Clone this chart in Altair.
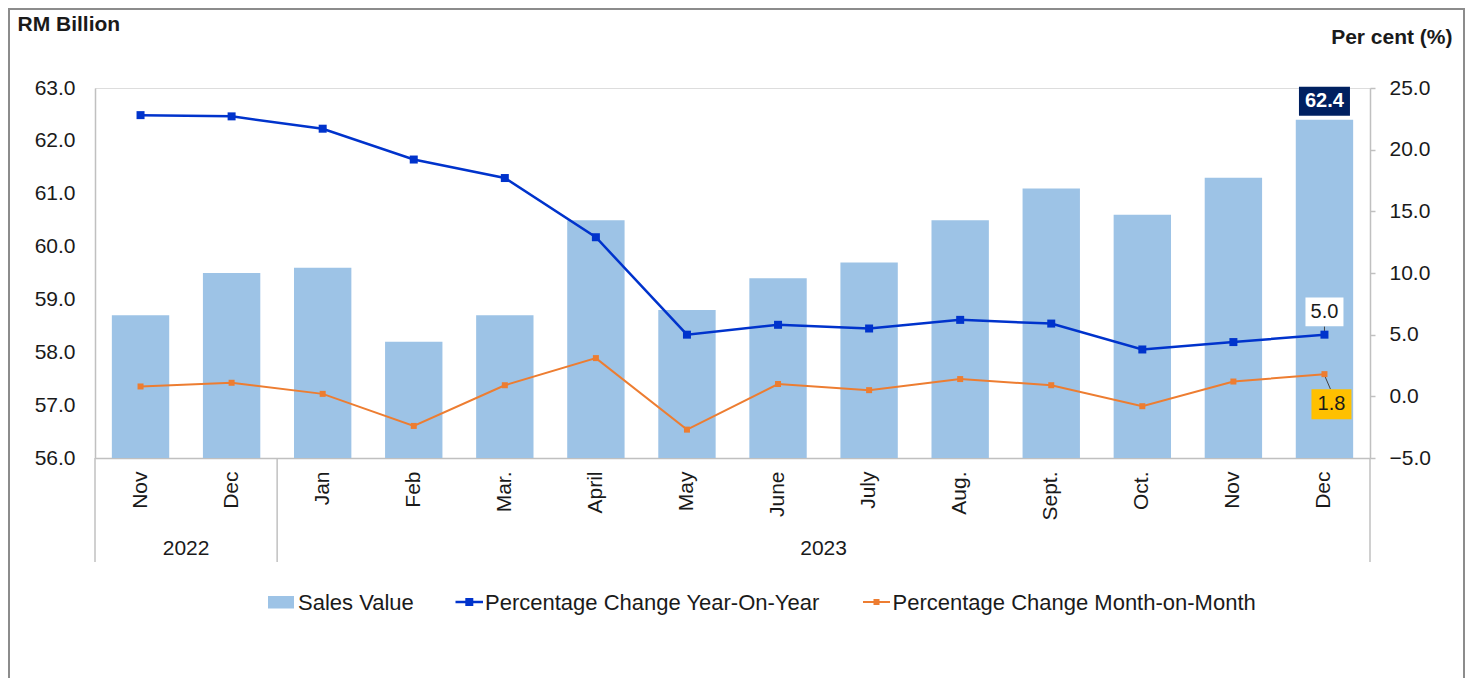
import altair as alt
import pandas as pd

# ---------------- data ----------------
years = ["2022", "2022"] + ["2023"] * 12
months = ["Nov", "Dec", "Jan", "Feb", "Mar.", "April", "May", "June",
          "July", "Aug.", "Sept.", "Oct.", "Nov", "Dec"]
sales = [58.7, 59.5, 59.6, 58.2, 58.7, 60.5, 58.8, 59.4, 59.7, 60.5, 61.1, 60.6, 61.3, 62.4]
yoy = [22.8, 22.7, 21.7, 19.2, 17.7, 12.9, 5.0, 5.8, 5.5, 6.2, 5.9, 3.8, 4.4, 5.0]
mom = [0.8, 1.1, 0.2, -2.4, 0.9, 3.1, -2.7, 1.0, 0.5, 1.4, 0.9, -0.8, 1.2, 1.8]
year_labels = ["2022", "2023"]
legend_labels = ["Sales Value", "Percentage Change Year-On-Year",
                 "Percentage Change Month-on-Month"]
left_ticks = [56, 57, 58, 59, 60, 61, 62, 63]
right_ticks = [-5, 0, 5, 10, 15, 20, 25]

keys = [f"{y}|{m}" for y, m in zip(years, months)]
df = pd.DataFrame({"key": keys, "sales": sales, "yoy": yoy, "mom": mom})
last = df.iloc[[-1]].reset_index(drop=True)
one = pd.DataFrame({"v": [0]})

# ---------------- style ----------------
W, H = 1275, 370
N = len(keys)
step = W / N
FONT = "Liberation Sans"
TXT = "#1a1a1a"
GREY = "#c0c0c0"
BAR = "#9dc3e6"
BLUE = "#0033cc"
ORANGE = "#ed7d31"


def X():
    return alt.X(
        "key:N", sort=keys, title=None,
        scale=alt.Scale(paddingInner=0.37, paddingOuter=0.185),
        axis=alt.Axis(labelExpr="split(datum.label, '|')[1]", labelAngle=-90,
                      labelFontSize=21, labelColor=TXT, labelFont=FONT,
                      labelPadding=13, ticks=False, domainColor=GREY,
                      domainWidth=1.5, grid=False, labelOverlap=False),
    )


def yL(field):
    return alt.Y(
        f"{field}:Q", title="RM Billion",
        scale=alt.Scale(domain=[56, 63], nice=False, zero=False),
        axis=alt.Axis(orient="left", values=left_ticks, format=".1f", ticks=False,
                      grid=False, domainColor=GREY, domainWidth=1.5,
                      labelFontSize=21, labelColor=TXT, labelFont=FONT, labelPadding=20,
                      title="RM Billion", titleAngle=0, titleX=-78, titleY=-58,
                      titleAlign="left", titleBaseline="alphabetic", titleFontSize=21,
                      titleFontWeight="bold", titleColor=TXT, titleFont=FONT),
    )


def yR(field):
    return alt.Y(
        f"{field}:Q", title="Per cent (%)",
        scale=alt.Scale(domain=[-5, 25], nice=False, zero=False),
        axis=alt.Axis(orient="right", values=right_ticks, format=".1f", ticks=True,
                      tickSize=5, tickColor=GREY, tickWidth=1.5,
                      grid=False, domainColor=GREY, domainWidth=1.5,
                      labelFontSize=21, labelColor=TXT, labelFont=FONT, labelPadding=14,
                      title="Per cent (%)", titleAngle=0, titleX=82, titleY=-45,
                      titleAlign="right", titleBaseline="alphabetic", titleFontSize=21,
                      titleFontWeight="bold", titleColor=TXT, titleFont=FONT),
    )


# ---------------- left (bars) ----------------
bars = alt.Chart(df).mark_bar(color=BAR).encode(x=X(), y=yL("sales"), y2=alt.datum(56))

box62 = alt.Chart(last).mark_point(
    shape="M-1,-0.57H1V0.57H-1Z", size=2601, filled=True, fill="#002060",
    opacity=1, strokeWidth=0, yOffset=-18.5,
).encode(x=X(), y=yL("sales"))
text62 = alt.Chart(last).mark_text(
    color="white", fontWeight="bold", fontSize=20, font=FONT, baseline="middle",
    yOffset=-18.5,
).encode(x=X(), y=yL("sales"), text=alt.Text("sales:Q", format=".1f"))

left_layer = alt.layer(bars, box62, text62)

# ---------------- right (lines) ----------------
yoy_line = alt.Chart(df).mark_line(color=BLUE, strokeWidth=2.5).encode(x=X(), y=yR("yoy"))
yoy_pts = alt.Chart(df).mark_point(shape="square", size=64, filled=True, color=BLUE,
                                   opacity=1).encode(x=X(), y=yR("yoy"))
mom_line = alt.Chart(df).mark_line(color=ORANGE, strokeWidth=2).encode(x=X(), y=yR("mom"))
mom_pts = alt.Chart(df).mark_point(shape="square", size=36, filled=True, color=ORANGE,
                                   opacity=1).encode(x=X(), y=yR("mom"))

lead5 = alt.Chart(last).mark_point(
    shape="M0,-0.2L0,-0.55", size=900, filled=False, stroke="#404040", strokeWidth=1,
    opacity=1,
).encode(x=X(), y=yR("yoy"))
box5 = alt.Chart(last).mark_point(
    shape="M-1,-0.76H1V0.76H-1Z", size=1444, filled=True, fill="white", opacity=1,
    strokeWidth=0, yOffset=-22.8,
).encode(x=X(), y=yR("yoy"))
text5 = alt.Chart(last).mark_text(
    color=TXT, fontSize=20, font=FONT, baseline="middle", yOffset=-22.8,
).encode(x=X(), y=yR("yoy"), text=alt.Text("yoy:Q", format=".1f"))

lead18 = alt.Chart(last).mark_point(
    shape="M0,0.07L0.4,1", size=900, filled=False, stroke="#404040", strokeWidth=1,
    opacity=1,
).encode(x=X(), y=yR("mom"))
box18 = alt.Chart(last).mark_point(
    shape="M-1,-0.75H1V0.75H-1Z", size=1600, filled=True, fill="#ffc000", opacity=1,
    strokeWidth=0, xOffset=7, yOffset=30,
).encode(x=X(), y=yR("mom"))
text18 = alt.Chart(last).mark_text(
    color=TXT, fontSize=20, font=FONT, baseline="middle", xOffset=7, yOffset=30,
).encode(x=X(), y=yR("mom"), text=alt.Text("mom:Q", format=".1f"))

right_layer = alt.layer(yoy_line, mom_line, lead18, mom_pts, lead5, yoy_pts,
                        box5, text5, box18, text18)

# ---------------- decorations ----------------
decos = []
# outer frame
decos.append(alt.Chart(one).mark_rect(filled=False, stroke="#8c8c8c", strokeWidth=2).encode(
    x=alt.value(-86), x2=alt.value(1369), y=alt.value(-79), y2=alt.value(700)))
# group separators below axis
for px in [0, 2 * step, W]:
    decos.append(alt.Chart(one).mark_rule(color=GREY, strokeWidth=1.5).encode(
        x=alt.value(px), y=alt.value(H), y2=alt.value(474)))
# year labels
for lab, px in zip(year_labels, [step * 1, step * 8]):
    decos.append(alt.Chart(one).mark_text(
        text=lab, fontSize=21, font=FONT, color=TXT, align="center",
        baseline="alphabetic").encode(x=alt.value(px), y=alt.value(467)))

# legend
LY = 514
decos.append(alt.Chart(one).mark_rect(color=BAR).encode(
    x=alt.value(173), x2=alt.value(199), y=alt.value(LY - 6), y2=alt.value(LY + 6.5)))
decos.append(alt.Chart(one).mark_rule(color=BLUE, strokeWidth=2.5).encode(
    x=alt.value(360.5), x2=alt.value(388), y=alt.value(LY)))
decos.append(alt.Chart(one).mark_point(shape="square", size=64, filled=True, color=BLUE,
                                       opacity=1).encode(x=alt.value(374.3), y=alt.value(LY)))
decos.append(alt.Chart(one).mark_rule(color=ORANGE, strokeWidth=2).encode(
    x=alt.value(768), x2=alt.value(795), y=alt.value(LY)))
decos.append(alt.Chart(one).mark_point(shape="square", size=36, filled=True, color=ORANGE,
                                       opacity=1).encode(x=alt.value(781.5), y=alt.value(LY)))
for lab, px in zip(legend_labels, [203, 390, 797.5]):
    decos.append(alt.Chart(one).mark_text(
        text=lab, fontSize=22, font=FONT, color=TXT, align="left",
        baseline="alphabetic").encode(x=alt.value(px), y=alt.value(LY + 7.5)))

chart = alt.layer(left_layer, right_layer, *decos).resolve_scale(
    y="independent"
).properties(
    width=W, height=H,
    padding={"left": 87, "top": 80, "right": 95, "bottom": 220},
    autosize=alt.AutoSizeParams(type="none"),
).configure_view(stroke=None).configure(font=FONT, background="white")

chart.save("out.html", embed_options={"renderer": "svg", "actions": False})
